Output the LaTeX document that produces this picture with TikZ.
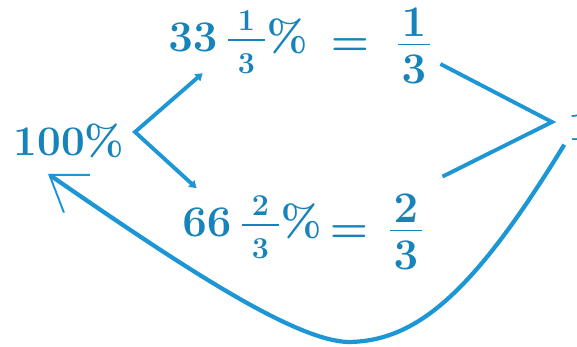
\documentclass[tikz,border=0pt]{standalone}
\usepackage{amsmath}
\usetikzlibrary{arrows.meta}
\definecolor{inkblue}{RGB}{22,132,186}
\definecolor{penblue}{RGB}{28,150,212}

\newcommand{\partfrac}[2]{\tfrac{\mkern5mu#1\mkern5mu\rule[-4pt]{0pt}{0pt}}%
    {\mkern5mu#2\mkern5mu\rule{0pt}{17.7pt}}}
\newcommand{\wholefrac}[2]{\tfrac{\textstyle\mkern1.5mu#1\mkern1.5mu\rule[-3pt]{0pt}{0pt}}%
    {\textstyle\mkern1.5mu#2\mkern1.5mu\rule{0pt}{20.7pt}}}

\begin{document}
\begin{tikzpicture}[x=0.02cm,y=0.02cm]
    \tikzset{
        figure/.style={
            text=inkblue,inner sep=2pt,
            font=\fontsize{24}{28}\selectfont\bfseries\boldmath
        },
        link/.style={draw=penblue,line width=2.2pt},
        fork/.style={link,{Triangle[length=4pt,width=5pt]}-{Triangle[length=4pt,width=5pt]}},
        back/.style={
            draw=penblue,line width=2.4pt,
            -{Straight Barb[length=19pt,width=26pt,line width=1.1pt]}
        }
    }

    \clip (0,0) rectangle (577,347);

    \node[figure] (hundred) at (69,206) {100\%};

    \node[figure] (pct1) at (238,304.5) {$33\,\partfrac{1}{3}\%$};
    \node[figure] (eq1) at (350,300) {$=$};
    \node[figure] (frac1) at (414,301) {$\wholefrac{1}{3}$};

    \node[figure] (pct2) at (252,119.5) {$66\,\partfrac{2}{3}\%$};
    \node[figure] (eq2) at (349,113) {$=$};
    \node[figure] (frac2) at (406,115) {$\wholefrac{2}{3}$};

    \node[figure] (one) at (580,220) {1};

    \coordinate (split) at (135,215);
    \coordinate (join) at (552,225);

    \draw[fork,shorten <=-4pt] (pct1) -- (split) -- ([shift={(18,4)}]pct2.north west);
    \draw[link] ([shift={(4,-18)}]frac1.east) -- (join)
        -- ([shift={(14,14)}]frac2.north east);

    \draw[back] (one.south west) .. controls (474,55) and (417,5) .. (347,5)
        .. controls (290,8) and (173,87) .. ([shift={(-21,-12)}]hundred.south);
\end{tikzpicture}
\end{document}
